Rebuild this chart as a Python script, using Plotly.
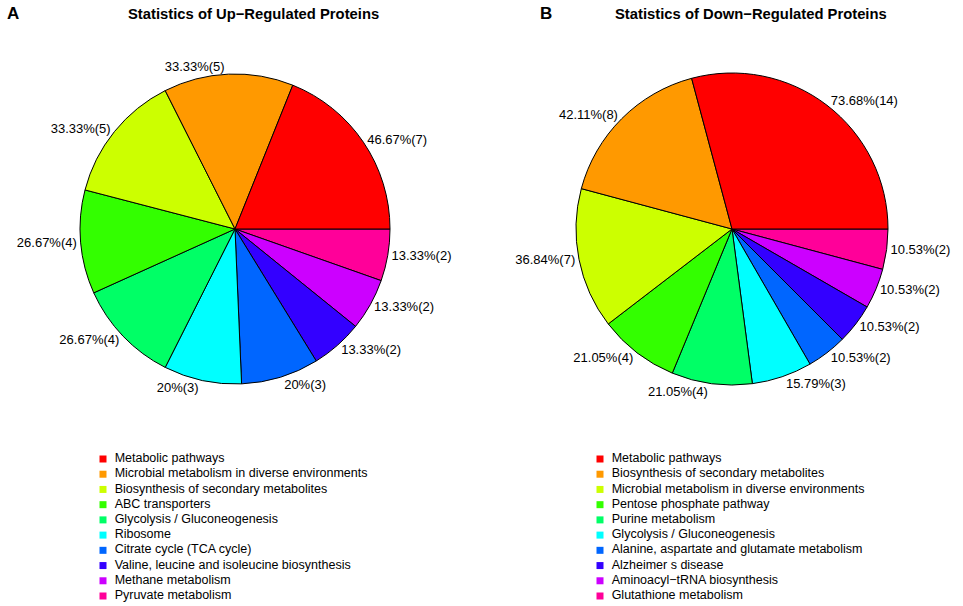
import plotly.graph_objects as go

# ---- data ----
up_categories = [
    "Metabolic pathways",
    "Microbial metabolism in diverse environments",
    "Biosynthesis of secondary metabolites",
    "ABC transporters",
    "Glycolysis / Gluconeogenesis",
    "Ribosome",
    "Citrate cycle (TCA cycle)",
    "Valine, leucine and isoleucine biosynthesis",
    "Methane metabolism",
    "Pyruvate metabolism",
]
up_counts = [7, 5, 5, 4, 4, 3, 3, 2, 2, 2]
up_total = 15

down_categories = [
    "Metabolic pathways",
    "Biosynthesis of secondary metabolites",
    "Microbial metabolism in diverse environments",
    "Pentose phosphate pathway",
    "Purine metabolism",
    "Glycolysis / Gluconeogenesis",
    "Alanine, aspartate and glutamate metabolism",
    "Alzheimer s disease",
    "Aminoacyl\u2212tRNA biosynthesis",
    "Glutathione metabolism",
]
down_counts = [14, 8, 7, 4, 4, 3, 2, 2, 2, 2]
down_total = 19

colors = ["#FF0000", "#FF9900", "#CCFF00", "#33FF00", "#00FF66",
          "#00FFFF", "#0066FF", "#3300FF", "#CC00FF", "#FF0099"]

title_up = "Statistics of Up\u2212Regulated Proteins"
title_down = "Statistics of Down\u2212Regulated Proteins"


def fmt(v, total):
    p = round(v / total * 100, 2)
    s = f"{p:.2f}".rstrip("0").rstrip(".")
    return f"{s}%({v})"


W, H = 963, 606
FONT = "Liberation Sans, Arial, sans-serif"

fig = go.Figure()


def add_pie(cats, counts, total, dom_x, dom_y):
    # R's pie(): first slice starts at 3 o'clock and runs counter-clockwise.
    # Same drawing in plotly: reversed order, clockwise from 3 o'clock.
    fig.add_trace(go.Pie(
        labels=cats[::-1],
        values=counts[::-1],
        text=[fmt(v, total) for v in counts][::-1],
        textinfo="text",
        textposition="outside",
        sort=False,
        direction="clockwise",
        rotation=90,
        marker=dict(colors=colors[::-1], line=dict(color="black", width=1)),
        outsidetextfont=dict(family=FONT, size=13, color="black"),
        domain=dict(x=dom_x, y=dom_y),
        showlegend=False,
        hoverinfo="label+value",
    ))


add_pie(up_categories, up_counts, up_total,
        [80 / W, 390 / W], [1 - 385 / H, 1 - 73 / H])
add_pie(down_categories, down_counts, down_total,
        [576 / W, 888 / W], [1 - 385 / H, 1 - 73 / H])


def add_legend(cats, xa, ya):
    n = len(cats)
    fig.add_trace(go.Scatter(
        x=[0] * n,
        y=list(range(n - 1, -1, -1)),
        mode="markers+text",
        marker=dict(symbol="square", size=7, color=colors),
        text=["\u2002" + c for c in cats],
        textposition="middle right",
        textfont=dict(family=FONT, size=12.5, color="black"),
        xaxis=xa, yaxis=ya,
        showlegend=False,
        cliponaxis=False,
        hovertext=cats,
        hoverinfo="text",
    ))


add_legend(up_categories, "x", "y")
add_legend(down_categories, "x2", "y2")

hidden = dict(visible=False, showgrid=False, zeroline=False, fixedrange=True)
fig.update_layout(
    width=W, height=H,
    margin=dict(l=0, r=0, t=0, b=0),
    paper_bgcolor="white", plot_bgcolor="white",
    font=dict(family=FONT, color="black"),
    xaxis=dict(domain=[103 / W, 450 / W], range=[0, 1], **hidden),
    yaxis=dict(domain=[1 - 596 / H, 1 - 459 / H], range=[0, 9], **hidden),
    xaxis2=dict(domain=[600 / W, 950 / W], range=[0, 1], anchor="y2", **hidden),
    yaxis2=dict(domain=[1 - 596 / H, 1 - 459 / H], range=[0, 9], anchor="x2", **hidden),
    annotations=[
        dict(text="<b>" + title_up + "</b>", x=253 / W, y=1 - 14 / H,
             xref="paper", yref="paper", showarrow=False,
             xanchor="center", yanchor="middle",
             font=dict(family=FONT, size=14.8, color="black")),
        dict(text="<b>" + title_down + "</b>", x=751 / W, y=1 - 14 / H,
             xref="paper", yref="paper", showarrow=False,
             xanchor="center", yanchor="middle",
             font=dict(family=FONT, size=14.8, color="black")),
        dict(text="<b>A</b>", x=13 / W, y=1 - 14 / H,
             xref="paper", yref="paper", showarrow=False,
             xanchor="center", yanchor="middle",
             font=dict(family=FONT, size=17, color="black")),
        dict(text="<b>B</b>", x=546 / W, y=1 - 14 / H,
             xref="paper", yref="paper", showarrow=False,
             xanchor="center", yanchor="middle",
             font=dict(family=FONT, size=17, color="black")),
    ],
)

fig.write_html("out.html",
               config={"displayModeBar": False},
               post_script="document.body.style.margin='0px';document.body.style.overflow='hidden';")
